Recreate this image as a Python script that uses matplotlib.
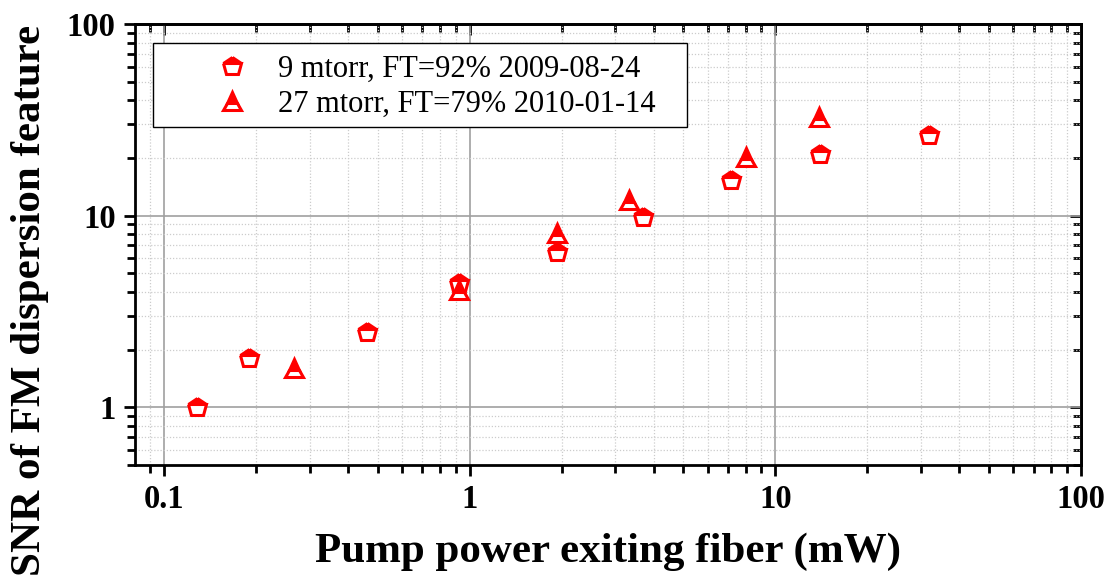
import matplotlib
matplotlib.use("Agg")
import matplotlib.pyplot as plt
from matplotlib.patches import Rectangle
from matplotlib.ticker import LogLocator, NullFormatter, FixedLocator, FixedFormatter

# Pump power exiting fiber (mW) and SNR for each run
power_9mtorr = [0.128, 0.19, 0.46, 0.923, 1.93, 3.70, 7.18, 14.0, 31.9]
snr_9mtorr = [1.0, 1.8, 2.47, 4.45, 6.45, 9.8, 15.4, 21.0, 26.2]

power_27mtorr = [0.266, 0.923, 1.93, 3.33, 8.0, 13.9]
snr_27mtorr = [1.6, 4.1, 8.07, 12.0, 20.3, 32.8]

label_9mtorr = "9 mtorr, FT=92% 2009-08-24"
label_27mtorr = "27 mtorr, FT=79% 2010-01-14"

x_ticks = [0.1, 1, 10, 100]
x_tick_labels = ["0.1", "1", "10", "100"]
y_ticks = [1, 10, 100]
y_tick_labels = ["1", "10", "100"]

plt.rcParams["font.family"] = ["Liberation Serif", "DejaVu Serif"]

fig = plt.figure(figsize=(11.11, 5.81), dpi=100)
ax = fig.add_axes([0.1215, 0.1997, 0.8515, 0.759])

ax.set_xscale("log")
ax.set_yscale("log")
ax.set_xlim(0.0804, 100)
ax.set_ylim(0.5, 100)

# half-filled markers: red upper half, white lower half
marker_kw = dict(linestyle="none", color="red", markerfacecolor="red",
                 markerfacecoloralt="white", markeredgecolor="red",
                 fillstyle="top", markeredgewidth=2.2)
ax.plot(power_9mtorr, snr_9mtorr, marker="p", markersize=13.5,
        label=label_9mtorr, zorder=3, **marker_kw)
ax.plot(power_27mtorr, snr_27mtorr, marker="^", markersize=12.5,
        label=label_27mtorr, zorder=3, **marker_kw)

# grid: solid major lines, dotted minor lines
ax.grid(which="major", color="#a0a0a0", linestyle="-", linewidth=1.2)
ax.grid(which="minor", color="#cccccc", linestyle=(0, (1, 1.5)), linewidth=0.9)
ax.set_axisbelow(True)

ax.xaxis.set_major_locator(FixedLocator(x_ticks))
ax.xaxis.set_major_formatter(FixedFormatter(x_tick_labels))
ax.yaxis.set_major_locator(FixedLocator(y_ticks))
ax.yaxis.set_major_formatter(FixedFormatter(y_tick_labels))
ax.xaxis.set_minor_locator(LogLocator(base=10, subs=range(2, 10), numticks=20))
ax.yaxis.set_minor_locator(LogLocator(base=10, subs=range(2, 10), numticks=20))
ax.xaxis.set_minor_formatter(NullFormatter())
ax.yaxis.set_minor_formatter(NullFormatter())

for s in ax.spines.values():
    s.set_linewidth(2)

ax.tick_params(which="both", direction="out", width=2, top=False, right=False)
ax.tick_params(which="major", length=8, labelsize=23.5, pad=6)
ax.tick_params(which="minor", length=6)
for lab in ax.get_xticklabels() + ax.get_yticklabels():
    lab.set_fontweight("bold")

# inward ticks on the top and right sides
ax_top = ax.secondary_xaxis("top")
ax_top.xaxis.set_major_locator(FixedLocator(x_ticks))
ax_top.xaxis.set_minor_locator(LogLocator(base=10, subs=range(2, 10), numticks=20))
ax_top.tick_params(which="both", direction="in", width=2, labeltop=False)
ax_top.tick_params(which="major", length=8)
ax_top.tick_params(which="minor", length=6)
ax_top.spines["top"].set_linewidth(2)

ax_right = ax.secondary_yaxis("right")
ax_right.yaxis.set_major_locator(FixedLocator(y_ticks))
ax_right.yaxis.set_minor_locator(LogLocator(base=10, subs=range(2, 10), numticks=20))
ax_right.tick_params(which="both", direction="in", width=2, labelright=False)
ax_right.tick_params(which="major", length=8)
ax_right.tick_params(which="minor", length=6)
ax_right.spines["right"].set_linewidth(2)

ax.set_xlabel("Pump power exiting fiber (mW)", fontsize=31, fontweight="bold", labelpad=12)
ax.set_ylabel("SNR of FM dispersion feature", fontsize=31, fontweight="bold")
ax.yaxis.set_label_coords(-0.091, 0.372)

# legend box
ax.add_patch(Rectangle((0.019, 0.766), 0.5645, 0.191, transform=ax.transAxes,
                       facecolor="white", edgecolor="black", linewidth=1.0, zorder=4))
leg = ax.legend(loc="center left", bbox_to_anchor=(0.0867, 0.857), fontsize=22,
                frameon=False, handlelength=1.0, handletextpad=1.0,
                labelspacing=0.2, borderpad=0, borderaxespad=0)
leg.set_zorder(5)

fig.savefig("out.png", dpi=100)
